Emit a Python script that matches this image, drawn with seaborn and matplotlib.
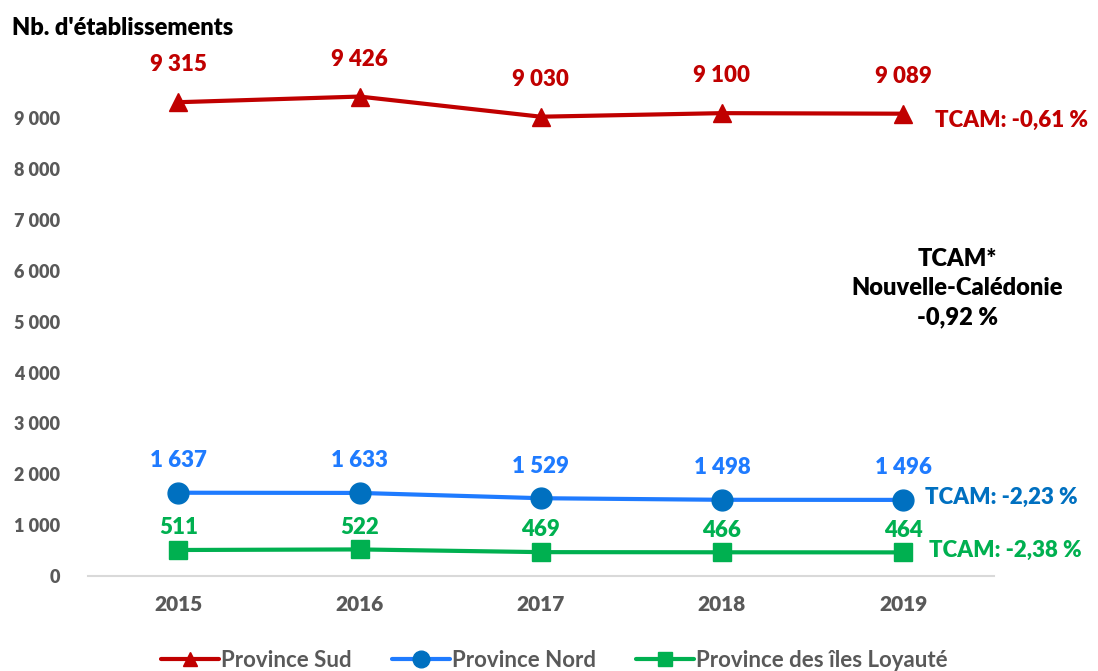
import pandas as pd
import seaborn as sns
import matplotlib.pyplot as plt
from matplotlib.lines import Line2D

years = ["2015", "2016", "2017", "2018", "2019"]
sud = [9315, 9426, 9030, 9100, 9089]
nord = [1637, 1633, 1529, 1498, 1496]
iles = [511, 522, 469, 466, 464]
series_names = ["Province Sud", "Province Nord", "Province des îles Loyauté"]
tcam_labels = ["TCAM: -0,61 %", "TCAM: -2,23 %", "TCAM: -2,38 %"]
tcam_total = "TCAM*\nNouvelle-Calédonie\n-0,92 %"
y_ticks = [0, 1000, 2000, 3000, 4000, 5000, 6000, 7000, 8000, 9000]


def fr_num(v):
    return f"{v:,.0f}".replace(",", " ")


df = pd.DataFrame({
    "annee": years * 3,
    "valeur": sud + nord + iles,
    "province": [n for n in series_names for _ in years],
})

line_cols = ["#C00000", "#1F7BFF", "#00B050"]
mark_cols = ["#C00000", "#0070C0", "#00B050"]
label_cols = ["#C00000", "#1F7BFF", "#00B050"]
tcam_cols = ["#C00000", "#0070C0", "#00B050"]
markers = ["^", "o", "s"]
msizes = [13, 15, 13]
label_off = [27, 23, 16]
W = "heavy"

sns.set_theme(style="white")
plt.rcParams["font.family"] = ["Lato", "DejaVu Sans"]

fig = plt.figure(figsize=(10.98, 6.71), dpi=100)
ax = fig.add_axes([0.080, 0.1416, 0.825, 0.758])

sns.lineplot(data=df, x="annee", y="valeur", hue="province", palette=line_cols,
             linewidth=3, legend=False, ax=ax, sort=False)

for i, (name, vals) in enumerate(zip(series_names, [sud, nord, iles])):
    ax.plot(range(len(years)), vals, linestyle="none", marker=markers[i],
            markersize=msizes[i], color=mark_cols[i], zorder=3)
    for x, v in enumerate(vals):
        ax.annotate(fr_num(v), (x, v), xytext=(0, label_off[i]), textcoords="offset points",
                    ha="center", va="center", fontsize=16, fontweight=W,
                    color=label_cols[i])

ax.set_xlim(-0.5, 4.5)
ax.set_ylim(0, 10000)
ax.set_yticks(y_ticks)
ax.set_yticklabels([fr_num(t) for t in y_ticks])
ax.set_xlabel("")
ax.set_ylabel("")
ax.tick_params(axis="y", length=0, labelsize=13, labelcolor="#595959", pad=20)
ax.tick_params(axis="x", length=0, labelsize=15, labelcolor="#595959", pad=14)
for lab in ax.get_xticklabels() + ax.get_yticklabels():
    lab.set_fontweight(W)
for s in ["top", "right", "left"]:
    ax.spines[s].set_visible(False)
ax.spines["bottom"].set_color("#D9D9D9")
ax.spines["bottom"].set_linewidth(1.5)

fig.text(0.011, 0.958, "Nb. d'établissements", fontsize=17, fontweight=W,
         color="black", va="center")

tcam_pos = [(0.852, 0.821), (0.842, 0.259), (0.846, 0.179)]
for (tx, ty), t, c in zip(tcam_pos, tcam_labels, tcam_cols):
    fig.text(tx, ty, t, fontsize=16, fontweight=W, color=c, va="center")
fig.text(0.872, 0.571, tcam_total, fontsize=17, fontweight=W, color="black",
         ha="center", va="center", linespacing=1.4)

handles = [Line2D([0], [0], color=line_cols[i], lw=3, marker=markers[i],
                  markersize=msizes[i] * 0.8, markerfacecolor=mark_cols[i],
                  markeredgecolor=mark_cols[i]) for i in range(3)]
fig.legend(handles, series_names, loc="center", bbox_to_anchor=(0.505, 0.016),
           ncol=3, frameon=False, handlelength=2.6, handletextpad=0.1,
           columnspacing=1.8, labelcolor="#595959",
           prop={"weight": "bold", "size": 16})

fig.savefig("out.png", dpi=100)
